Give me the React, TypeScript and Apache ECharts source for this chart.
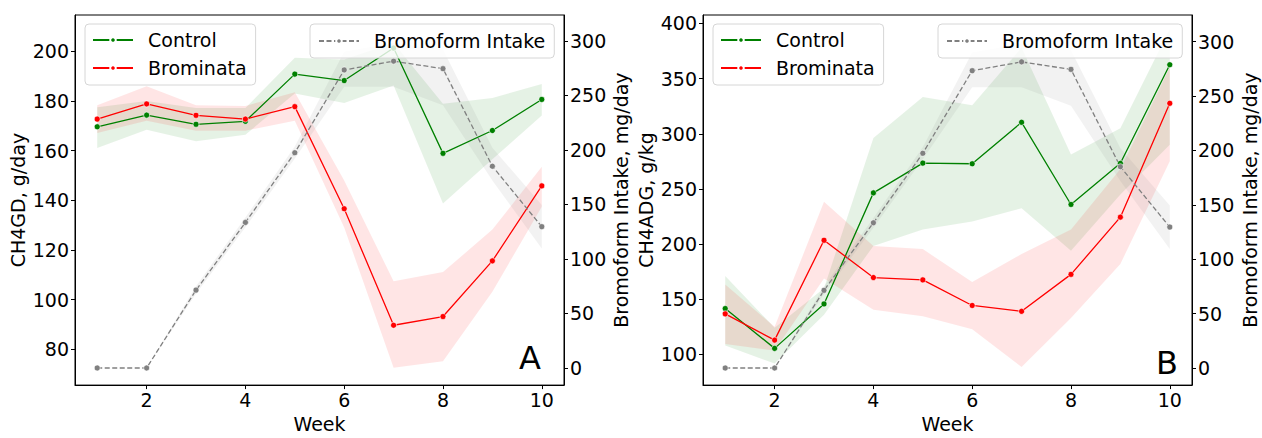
import React, { useEffect, useRef } from "react";
import * as echarts from "echarts";

const weeks = [1, 2, 3, 4, 5, 6, 7, 8, 9, 10];
const xTicks = [2, 4, 6, 8, 10];

// Panel A: CH4GD, g/day
const gdControl = [169.6, 174.3, 170.6, 171.8, 190.8, 188.2, 201.3, 158.9, 168.1, 180.6];
const gdControlLo = [161.1, 168.4, 163.8, 166.4, 183.0, 179.2, 186.2, 138.7, 156.5, 174.1];
const gdControlHi = [177.5, 180.0, 177.2, 177.2, 197.4, 196.7, 203.3, 178.9, 181.2, 186.8];
const gdBrom = [172.7, 178.8, 174.2, 172.7, 177.7, 136.6, 89.7, 93.2, 115.6, 145.8];
const gdBromLo = [167.1, 172.0, 168.0, 168.0, 172.0, 129.0, 72.6, 75.2, 103.2, 137.4];
const gdBromHi = [178.3, 185.9, 178.3, 178.0, 183.5, 148.0, 107.4, 111.1, 128.2, 153.5];
const gdTicks = [80, 100, 120, 140, 160, 180, 200];

// Panel B: CH4ADG, g/kg
const adgControl = [141.5, 105.4, 145.7, 246.4, 273.4, 272.8, 310.4, 235.9, 273.2, 362.6];
const adgControlLo = [108.0, 91.6, 136.0, 198.3, 213.2, 220.5, 232.4, 193.9, 245.0, 290.0];
const adgControlHi = [171.0, 124.0, 160.0, 296.2, 333.3, 325.8, 378.0, 281.3, 305.0, 395.0];
const adgBrom = [136.7, 112.9, 203.4, 169.6, 167.5, 144.3, 139.0, 172.5, 224.4, 327.6];
const adgBromLo = [109.4, 103.4, 168.7, 140.5, 134.5, 122.7, 88.6, 133.0, 182.0, 275.0];
const adgBromHi = [163.3, 125.0, 238.3, 198.3, 195.4, 165.7, 190.9, 213.2, 268.0, 360.0];
const adgTicks = [100, 150, 200, 250, 300, 350, 400];

// Bromoform intake, mg/day (right axes)
const intake = [0, 0, 71.4, 133.5, 197.4, 273.3, 281.4, 274.5, 185.0, 129.6];
const intakeLo = [0, 0, 68, 129, 192, 258, 258, 241, 172, 109.5];
const intakeHi = [0, 0, 75, 138, 203, 290, 298, 292, 202, 149.4];
const intakeTicks = [0, 50, 100, 150, 200, 250, 300];

const FONT = "DejaVu Sans";
const FS = 19;

const pair = (vals: number[]) => weeks.map((w, i) => [w, vals[i]]);

function band(xi: number, yi: number, lo: number[], hi: number[], color: string) {
  return {
    type: "custom", xAxisIndex: xi, yAxisIndex: yi, silent: true, z: 1, clip: true,
    data: weeks.map((w, i) => [w, lo[i], hi[i]]),
    encode: { x: 0, y: [1, 2] },
    renderItem: (params: any, api: any) => {
      if (params.dataIndex !== 0) return null;
      const upper = weeks.map((w, i) => api.coord([w, hi[i]]));
      const lower = weeks.map((w, i) => api.coord([w, lo[i]])).reverse();
      return {
        type: "polygon",
        shape: { points: upper.concat(lower) },
        style: { fill: color },
        silent: true,
      };
    },
  };
}

function line(name: string, xi: number, yi: number, vals: number[], color: string, dashed = false) {
  return {
    type: "line", name, xAxisIndex: xi, yAxisIndex: yi, data: pair(vals),
    symbol: "circle", symbolSize: 6,
    itemStyle: { color, borderColor: "#fff", borderWidth: 0.6 },
    lineStyle: { color, width: 1.3, type: dashed ? [5, 2.5] : "solid" },
    z: 3,
  };
}

function xAx(gridIndex: number) {
  return {
    type: "value", gridIndex, min: 0.55, max: 10.45,
    name: "Week", nameLocation: "middle", nameGap: 26,
    nameTextStyle: { fontSize: FS, color: "#000", fontFamily: FONT },
    axisLine: { show: true, onZero: false, lineStyle: { color: "#000", width: 1 } },
    axisTick: { show: true, length: 4, customValues: xTicks, lineStyle: { color: "#000" } },
    axisLabel: { customValues: xTicks, fontSize: FS, color: "#000", margin: 5, fontFamily: FONT },
    splitLine: { show: false },
  };
}

function yAx(gridIndex: number, min: number, max: number, ticks: number[], name: string, position: string, gap: number) {
  return {
    type: "value", gridIndex, position, min, max,
    name, nameLocation: "middle", nameGap: gap, nameRotate: 90,
    nameTextStyle: { fontSize: FS, color: "#000", fontFamily: FONT },
    axisLine: { show: true, onZero: false, lineStyle: { color: "#000", width: 1 } },
    axisTick: { show: true, length: 4, customValues: ticks, lineStyle: { color: "#000" } },
    axisLabel: { customValues: ticks, fontSize: FS, color: "#000", margin: 6, fontFamily: FONT },
    splitLine: { show: false },
  };
}

function legend(left: number, names: string[], padding: number[]) {
  return {
    orient: "vertical", left, top: 24, data: names,
    itemWidth: 40, itemHeight: 7, itemGap: 8, padding,
    backgroundColor: "rgba(255,255,255,0.8)", borderColor: "#d6d6d6", borderWidth: 1, borderRadius: 4,
    textStyle: { fontSize: FS, color: "#000", fontFamily: FONT, lineHeight: 20, padding: [0, 0, 0, 10] },
    selectedMode: false,
  };
}

export default function App() {
  const ref = useRef<HTMLDivElement>(null);
  useEffect(() => {
    document.body.style.margin = "0";
    const chart = echarts.init(ref.current!, null, { renderer: "svg" });
    const option = {
      animation: false,
      backgroundColor: "#fff",
      textStyle: { fontFamily: FONT },
      grid: [
        { left: 75, top: 15, width: 489, height: 377, show: true, borderColor: "#000", borderWidth: 1, backgroundColor: "transparent" },
        { left: 703, top: 15, width: 489, height: 377, show: true, borderColor: "#000", borderWidth: 1, backgroundColor: "transparent" },
      ],
      xAxis: [xAx(0), xAx(1)],
      yAxis: [
        yAx(0, 65.6, 214.6, gdTicks, "CH4GD, g/day", "left", 48),
        yAx(0, -15.7, 323.7, intakeTicks, "Bromoform Intake, mg/day", "right", 47),
        yAx(1, 72.1, 407.7, adgTicks, "CH4ADG, g/kg", "left", 48),
        yAx(1, -15.7, 324.5, intakeTicks, "Bromoform Intake, mg/day", "right", 48),
      ],
      legend: [
        legend(85, ["Control", "Brominata"], [6, 9, 7, 7]),
        legend(310, ["Bromoform Intake"], [7, 9, 7, 8]),
        legend(713, ["Control", "Brominata"], [6, 9, 7, 7]),
        legend(938, ["Bromoform Intake"], [7, 9, 7, 8]),
      ],
      graphic: [
        { type: "text", x: 530, y: 358, style: { text: "A", fontSize: 32, fontFamily: FONT, fill: "#000", align: "center", verticalAlign: "middle" } },
        { type: "text", x: 1167, y: 363, style: { text: "B", fontSize: 32, fontFamily: FONT, fill: "#000", align: "center", verticalAlign: "middle" } },
      ],
      series: [
        band(0, 0, gdControlLo, gdControlHi, "rgba(0,128,0,0.1)"),
        band(0, 0, gdBromLo, gdBromHi, "rgba(255,0,0,0.1)"),
        line("Control", 0, 0, gdControl, "#008000"),
        line("Brominata", 0, 0, gdBrom, "#ff0000"),
        band(0, 1, intakeLo, intakeHi, "rgba(128,128,128,0.1)"),
        line("Bromoform Intake", 0, 1, intake, "#808080", true),

        band(1, 2, adgControlLo, adgControlHi, "rgba(0,128,0,0.1)"),
        band(1, 2, adgBromLo, adgBromHi, "rgba(255,0,0,0.1)"),
        line("Control", 1, 2, adgControl, "#008000"),
        line("Brominata", 1, 2, adgBrom, "#ff0000"),
        band(1, 3, intakeLo, intakeHi, "rgba(128,128,128,0.1)"),
        line("Bromoform Intake", 1, 3, intake, "#808080", true),
      ],
    };
    chart.setOption(option as any);
    return () => chart.dispose();
  }, []);
  return <div ref={ref} style={{ width: 1262, height: 438 }} />;
}
